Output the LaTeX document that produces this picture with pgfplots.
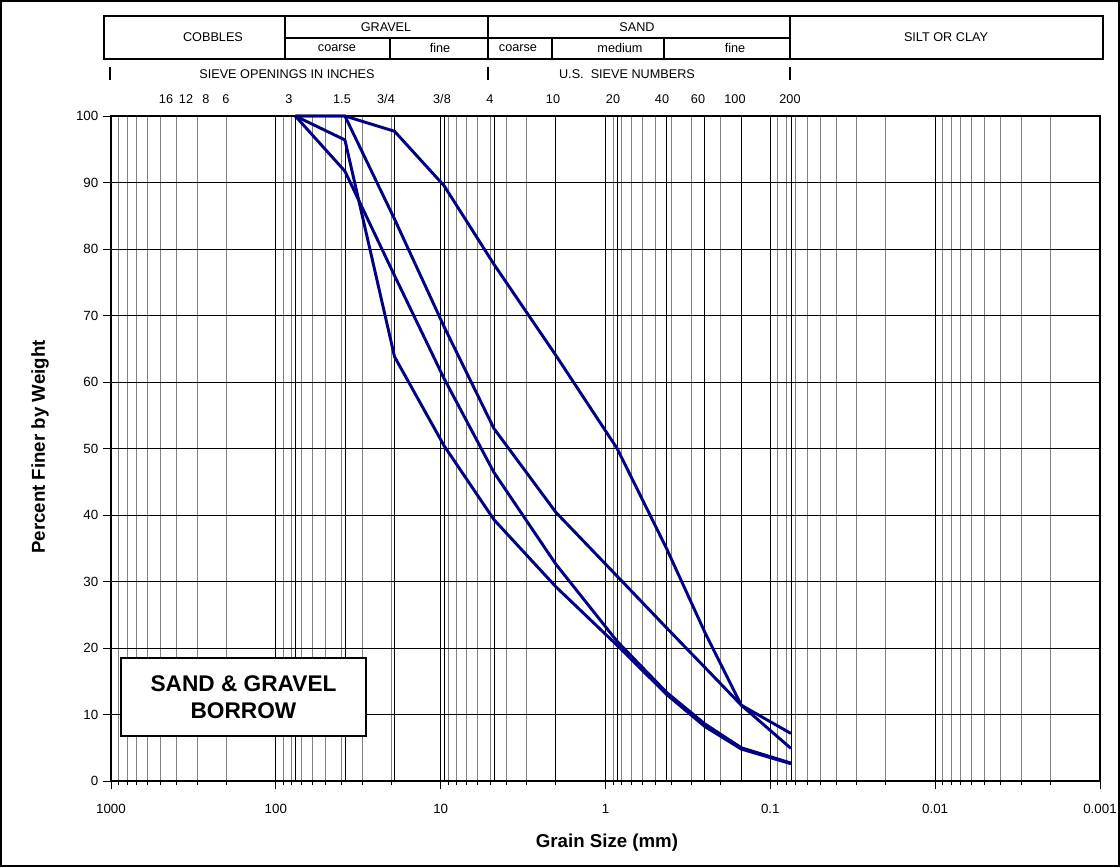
\documentclass[border=0pt]{standalone}
\usepackage{pgfplots}
\usepackage{pgfplotstable}
\pgfplotsset{compat=1.18}
\usepackage{fontspec}
\setmainfont{Liberation Sans}
\definecolor{navy}{RGB}{0,0,128}

% grain size (mm) vs percent finer, four gradation curves
\pgfplotstableread{
d      A     B     C     D
76.2   100   100   100   100
38.1   91.7  96.4  100   100
19.05  76.0  63.8  84.5  97.7
9.525  60.5  50.4  68.3  89.5
4.75   46.4  39.3  53.0  77.7
2.0    32.6  29.2  40.4  64.0
0.85   21.0  20.4  30.8  50.0
0.425  13.3  13.0  23.0  34.9
0.25   8.6   8.2   17.1  22.4
0.15   5.0   4.8   11.4  11.4
0.075  2.7   2.6   7.15  4.9
}\grading

\newcommand{\hfont}{\fontsize{9.5}{11}\selectfont}

\begin{document}
\begin{tikzpicture}[x=0.75pt,y=0.75pt]
\useasboundingbox (0,0) rectangle (1120,867);
\coordinate (O) at (111,86);
\begin{axis}[
  at={(O)}, anchor=south west,
  scale only axis, width=741.75pt, height=498.75pt,
  xmode=log, x dir=reverse, xmin=0.001, xmax=1000,
  ymin=0, ymax=100, ytick distance=10,
  xtick={1000,100,10,1,0.1,0.01,0.001},
  xticklabels={1000,100,10,1,0.1,0.01,0.001},
  minor xtick={0.002,0.003,0.004,0.005,0.006,0.007,0.008,0.009,
    0.02,0.03,0.04,0.05,0.06,0.07,0.08,0.09,
    0.2,0.3,0.4,0.5,0.6,0.7,0.8,0.9,
    2,3,4,5,6,7,8,9,20,30,40,50,60,70,80,90,
    200,300,400,500,600,700,800,900},
  extra x ticks={76.2,38.1,19.05,9.525,4.75,2,0.85,0.425,0.25,0.15,0.075},
  extra x tick labels={},
  extra x tick style={major tick length=0pt},
  xtick pos=bottom, ytick pos=left,
  grid=both,
  major grid style={black, line width=0.6pt},
  minor grid style={gray, line width=0.6pt},
  axis line style={black, line width=0.8pt},
  tick align=outside, major tick length=6pt, minor tick length=3pt,
  tick style={black, line width=0.6pt},
  /pgf/number format/assume math mode=true,
  ticklabel style={font=\fontsize{10}{12}\selectfont},
  xticklabel style={yshift=-8pt},
  clip=false,
]
\addplot[navy, line width=2.2pt, line join=round] table[x=d, y=A] {\grading};
\addplot[navy, line width=2.2pt, line join=round] table[x=d, y=B] {\grading};
\addplot[navy, line width=2.2pt, line join=round] table[x=d, y=C] {\grading};
\addplot[navy, line width=2.2pt, line join=round] table[x=d, y=D] {\grading};
\end{axis}

% axis titles
\node[rotate=90, font=\bfseries\fontsize{14}{16}\selectfont] at (40,420) {Percent Finer by Weight};
\node[font=\bfseries\fontsize{14}{16}\selectfont] at (607,24) {Grain Size (mm)};

% soil classification header
\draw[line width=1.2pt] (104,851) rectangle (1103,808);
\draw[line width=0.9pt] (285,851)--(285,808) (488,851)--(488,808) (790,851)--(790,808)
  (285,829)--(790,829) (390,829)--(390,808) (552,829)--(552,808) (664,829)--(664,808);
\node[font=\hfont] at (213,830) {COBBLES};
\node[font=\hfont] at (386,840) {GRAVEL};
\node[font=\hfont] at (337,819) {coarse};
\node[font=\hfont] at (440,819) {fine};
\node[font=\hfont] at (637,840) {SAND};
\node[font=\hfont] at (518,819) {coarse};
\node[font=\hfont] at (620,819) {medium};
\node[font=\hfont] at (735,819) {fine};
\node[font=\hfont] at (946,830) {SILT OR CLAY};

\draw[line width=1.5pt] (110,787)--(110,800) (488,787)--(488,800) (790,787)--(790,800);
\node[font=\hfont] at (287,793) {SIEVE OPENINGS IN INCHES};
\node[font=\hfont] at (627,793) {U.S.\ \ SIEVE NUMBERS};

\foreach \xx/\lab in {166/16,186/12,206/8,226/6,289/3,342/1.5,386/3\slash4,442/3\slash8,
  490/4,553/10,613/20,662/40,698/60,735/100,790/200}
  \node[font=\hfont] at (\xx,768) {\lab};

% label box
\draw[line width=1.5pt, fill=white] (121,131) rectangle (366,209);
\node[font=\bfseries\fontsize{17}{20}\selectfont, align=center] at (243.5,170) {SAND \& GRAVEL\\BORROW};

% outer frame
\draw[line width=2pt] (1,1) rectangle (1119,866);
\end{tikzpicture}
\end{document}
